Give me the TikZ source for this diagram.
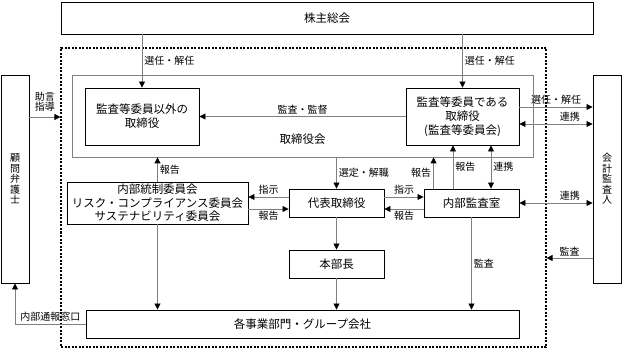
\documentclass[tikz,border=0pt]{standalone}
\usepackage{fontspec}
\setmainfont{Noto Sans CJK JP}
\usepackage{tikz}
\usetikzlibrary{arrows.meta, positioning}

\begin{document}
\begin{tikzpicture}[x=1pt,y=-1pt, >={Triangle[length=6pt,width=6pt,color=black]},
                    boite/.style={draw, line width=.9pt, inner sep=2pt, align=center, font=\fontsize{11.5}{14}\selectfont},
                    vertical/.style={boite, font=\fontsize{10}{10.5}\selectfont, minimum width=28pt, minimum height=208pt},
                    fleche/.style={->, draw=gray, line width=.8pt},
                    etiq/.style={font=\fontsize{10}{11}\selectfont, inner sep=2pt}]

    \useasboundingbox (0,0) rectangle (622,350);

    % Cadres
    \node[boite, minimum width=532pt, minimum height=32pt] (kabunushi) at (327,18) {株主総会};
    \node[draw, dash pattern=on 2pt off 1.5pt, line width=1.2pt, inner sep=0pt,
          minimum width=485pt, minimum height=299pt] (groupe) at (303.5,197.5) {};
    \node[draw=gray, line width=.8pt, inner sep=0pt, minimum width=461pt, minimum height=82pt] (kai) at (302.5,116) {};
    \node[font=\fontsize{11.5}{14}\selectfont] (kainom) at (302.5,139) {取締役会};

    % Noeuds
    \node[boite, minimum width=114pt, minimum height=57pt] (torishimari) at (142,116.5) {監査等委員以外の\\取締役};
    \node[boite, minimum width=113pt, minimum height=57pt] (kansaiin) at (462.5,116.5) {監査等委員である\\取締役\\(監査等委員会)};
    \node[vertical] (komon) at (15,179) {顧\\問\\弁\\護\\士};
    \node[vertical] (kaikei) at (607,179) {会\\計\\監\\査\\人};
    \node[boite, minimum width=181pt, minimum height=42pt, font=\fontsize{11.5}{13.5}\selectfont] (naibu) at (157.5,203)
         {内部統制委員会\\リスク・コンプライアンス委員会\\サステナビリティ委員会};
    \node[boite, minimum width=95pt, minimum height=28pt] (daihyo) at (336.5,203) {代表取締役};
    \node[boite, minimum width=95pt, minimum height=28pt] (honbucho) at (336.5,264) {本部長};
    \node[boite, minimum width=95pt, minimum height=28pt] (kansashitsu) at (471.5,203) {内部監査室};
    \node[boite, minimum width=433pt, minimum height=28pt] (jigyo) at (302.5,324) {各事業部門・グループ会社};

    % Points de départ
    \coordinate (k1) at ([yshift=9.5pt]kansaiin.east);
    \coordinate (k2) at ([yshift=-7.5pt]kansaiin.east);
    \coordinate (c1) at ([yshift=62pt]komon.east);
    \coordinate (c2) at ([yshift=-79pt]kaikei.west);
    \coordinate (d1) at ([yshift=6pt]daihyo.west);
    \coordinate (d2) at ([yshift=-6pt]daihyo.west);
    \coordinate (d3) at ([yshift=6pt]daihyo.east);
    \coordinate (d4) at ([yshift=-6pt]daihyo.east);
    \coordinate (s1) at ([xshift=10pt]kansashitsu.north west);
    \coordinate (s2) at ([xshift=-18.5pt]kansashitsu.north);
    \coordinate (s3) at ([xshift=19.5pt]kansashitsu.north);

    % Liens avec étiquettes
    \path (kabunushi.south -| torishimari.north) edge[fleche] node[etiq, right] {選任・解任} (torishimari.north);
    \path (kabunushi.south -| kansaiin.north) edge[fleche] node[etiq, right] {選任・解任} (kansaiin.north);
    \path (kansaiin.west) edge[fleche] node[etiq, above] {監査・監督} (torishimari.east);
    \path (c1) edge[fleche] node[etiq, above=3pt, align=center, font=\fontsize{10}{10.5}\selectfont] {助言\\指導} (c1 -| groupe.west);
    \path (k1) edge[fleche] node[etiq, above] {選任・解任} (k1 -| kaikei.west);
    \path (k2) edge[fleche, <->] node[etiq, above, pos=.69] {連携} (k2 -| kaikei.west);
    \path (naibu.north) edge[fleche] node[etiq, right] {報告} (naibu.north |- kai.south);
    \path (d1) edge[fleche] node[etiq, above] {指示} (d1 -| naibu.east);
    \path (d2 -| naibu.east) edge[fleche] node[etiq, below] {報告} (d2);
    \path (kai.south -| daihyo.north) edge[fleche] node[etiq, right] {選定・解職} (daihyo.north);
    \path (s1) edge[fleche] node[etiq, left] {報告} (s1 |- kai.south);
    \path (s2) edge[fleche] node[etiq, right] {報告} (s2 |- kansaiin.south);
    \path (s3) edge[fleche, <->] node[etiq, right] {連携} (s3 |- kansaiin.south);
    \path (d3) edge[fleche] node[etiq, above] {指示} (d3 -| kansashitsu.west);
    \path (d4 -| kansashitsu.west) edge[fleche] node[etiq, below] {報告} (d4);
    \path (kansashitsu.east) edge[fleche, <->] node[etiq, above, pos=.69] {連携} (kansashitsu.east -| kaikei.west);
    \path (c2) edge[fleche] node[etiq, above] {監査} (c2 -| groupe.east);
    \path (kansashitsu.south) edge[fleche] node[etiq, right] {監査} (kansashitsu.south |- jigyo.north);

    % Liens sans étiquette
    \path (daihyo.south) edge[fleche] (honbucho.north);
    \path (honbucho.south) edge[fleche] (jigyo.north -| honbucho.south);
    \path (naibu.south) edge[fleche] (naibu.south |- jigyo.north);
    \draw[fleche] (jigyo.west) -| node[etiq, above, pos=.25] {内部通報窓口} (komon.south);

\end{tikzpicture}
\end{document}
